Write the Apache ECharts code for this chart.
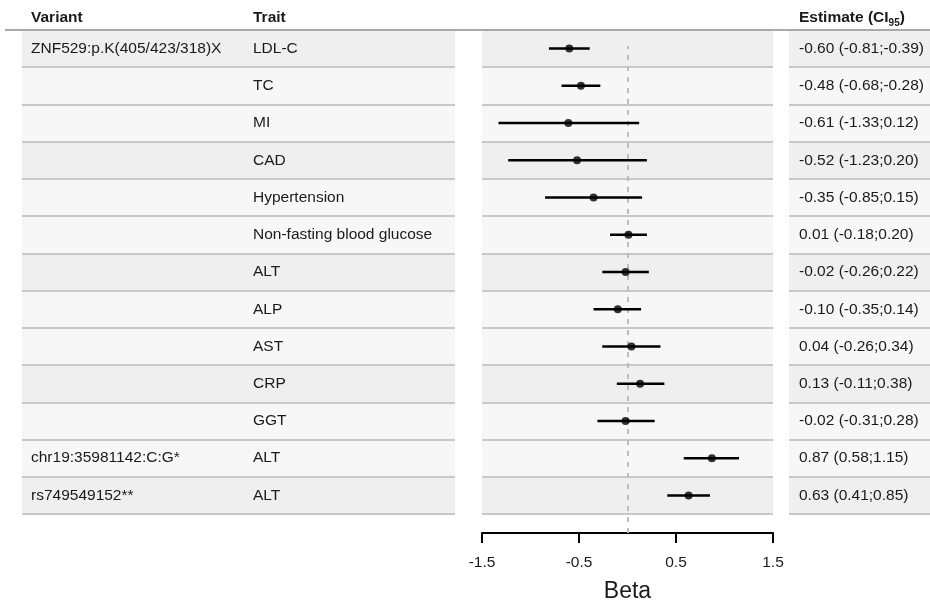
<!DOCTYPE html>
<html><head><meta charset="utf-8">
<script src="https://cdn.jsdelivr.net/npm/echarts@6/dist/echarts.min.js"></script>
<style>html,body{margin:0;padding:0;background:#fff}#c{width:930px;height:600px}</style>
</head><body><div id="c"></div>
<script>
// ---- data ----
const variants = ['ZNF529:p.K(405/423/318)X','','','','','','','','','','','chr19:35981142:C:G*','rs749549152**'];
const traits = ['LDL-C','TC','MI','CAD','Hypertension','Non-fasting blood glucose','ALT','ALP','AST','CRP','GGT','ALT','ALT'];
const estimate = [-0.60,-0.48,-0.61,-0.52,-0.35,0.01,-0.02,-0.10,0.04,0.13,-0.02,0.87,0.63];
const ciLow   = [-0.81,-0.68,-1.33,-1.23,-0.85,-0.18,-0.26,-0.35,-0.26,-0.11,-0.31,0.58,0.41];
const ciHigh  = [-0.39,-0.28,0.12,0.20,0.15,0.20,0.22,0.14,0.34,0.38,0.28,1.15,0.85];
const xTicks = [-1.5,-0.5,0.5,1.5];
const refValue = 0;
const headerVariant = 'Variant';
const headerTrait = 'Trait';
const axisName = 'Beta';

// ---- build ----
const FONT = '"Liberation Sans", Arial, Helvetica, sans-serif';
const FS = 15.5;
const TXT = '#1a1a1a';
const rowIds = traits.map((_, i) => String(i));
const estLabels = estimate.map((e, i) => `${e.toFixed(2)} (${ciLow[i].toFixed(2)};${ciHigh[i].toFixed(2)})`);

const ROW_TOP = 30, ROW_H = 484;
function rowGrid(left, width) { return {left, width, top: ROW_TOP, height: ROW_H, outerBoundsMode: 'none', containLabel: false}; }
function rowAxis(gridIndex, labels, margin) {
  return {
    type: 'category', gridIndex, data: rowIds, inverse: true,
    axisLine: {show: false}, axisTick: {show: false},
    axisLabel: labels ? {show: true, inside: true, margin, interval: 0,
      formatter: (v, i) => labels[i], color: TXT, fontSize: FS, fontFamily: FONT} : {show: false},
    splitArea: {show: true, interval: 0, areaStyle: {color: ['#efefef', '#f7f7f7', '#f7f7f7']}},
    splitLine: {show: true, interval: 0, lineStyle: {color: '#c8c8c8', width: 2}}
  };
}
function hiddenX(gridIndex, min, max) {
  return {type: 'value', gridIndex, min, max, show: false, splitLine: {show: false}};
}

const chart = echarts.init(document.getElementById('c'), null, {renderer: 'canvas'});
chart.setOption({
  animation: false,
  backgroundColor: '#ffffff',
  grid: [
    rowGrid(22, 223),
    rowGrid(245, 210),
    rowGrid(482, 291),
    rowGrid(789, 141),
    {left: 482, width: 291, top: 46, height: 487, outerBoundsMode: 'none', containLabel: false}
  ],
  xAxis: [
    hiddenX(0, 0, 1),
    hiddenX(1, 0, 1),
    hiddenX(2, -1.5, 1.5),
    hiddenX(3, 0, 1),
    {
      type: 'value', gridIndex: 4, min: -1.5, max: 1.5,
      name: axisName, nameLocation: 'middle', nameGap: 47,
      nameTextStyle: {fontSize: 23, color: TXT, fontFamily: FONT},
      axisLine: {show: true, lineStyle: {color: '#000', width: 2}},
      axisTick: {show: true, length: 10, lineStyle: {color: '#000', width: 2}, customValues: xTicks},
      axisLabel: {show: true, margin: 22, fontSize: FS, color: TXT, fontFamily: FONT, customValues: xTicks,
        formatter: v => String(v)},
      splitLine: {show: false}
    }
  ],
  yAxis: [
    rowAxis(0, variants, 9),
    rowAxis(1, traits, 8),
    rowAxis(2, null, 0),
    rowAxis(3, estLabels, 10),
    {type: 'value', gridIndex: 4, min: 0, max: 1, show: false, splitLine: {show: false}}
  ],
  series: [
    {
      type: 'line', xAxisIndex: 4, yAxisIndex: 4, data: [], z: 1,
      markLine: {silent: true, z: 1, symbol: ['none', 'none'], label: {show: false},
        lineStyle: {type: [5, 6], color: '#bdbdbd', width: 2},
        data: [{xAxis: refValue}]}
    },
    {
      type: 'custom', xAxisIndex: 2, yAxisIndex: 2, z: 6,
      data: ciLow.map((lo, i) => [lo, ciHigh[i], i]),
      encode: {x: [0, 1], y: 2},
      renderItem: (params, api) => {
        const y = api.value(2);
        const p1 = api.coord([api.value(0), y]);
        const p2 = api.coord([api.value(1), y]);
        return {type: 'line', shape: {x1: p1[0], y1: p1[1], x2: p2[0], y2: p2[1]},
          style: {stroke: '#000', lineWidth: 2.5}};
      }
    },
    {
      type: 'scatter', xAxisIndex: 2, yAxisIndex: 2, z: 7,
      symbol: 'circle', symbolSize: 8, itemStyle: {color: '#000'},
      data: estimate.map((e, i) => [e, i])
    }
  ],
  graphic: [
    {type: 'line', z: 100, shape: {x1: 5, y1: 30, x2: 930, y2: 30}, style: {stroke: '#a9a9a9', lineWidth: 2}},
    {type: 'text', z: 100, style: {x: 31, y: 18, text: headerVariant, fontSize: FS, fontWeight: 'bold', fontFamily: FONT, fill: TXT, verticalAlign: 'middle'}},
    {type: 'text', z: 100, style: {x: 253, y: 18, text: headerTrait, fontSize: FS, fontWeight: 'bold', fontFamily: FONT, fill: TXT, verticalAlign: 'middle'}},
    {type: 'text', z: 100, style: {x: 799, y: 18, text: '{a|Estimate (CI}{s|95}{a|)}', verticalAlign: 'middle', fill: TXT,
      rich: {
        a: {fontSize: FS, fontWeight: 'bold', fontFamily: FONT, fill: TXT, lineHeight: 20, verticalAlign: 'middle'},
        s: {fontSize: 10, fontWeight: 'bold', fontFamily: FONT, fill: TXT, lineHeight: 20, verticalAlign: 'bottom', padding: [0, 0, 0, 0]}
      }}}
  ]
});
</script>
</body></html>
